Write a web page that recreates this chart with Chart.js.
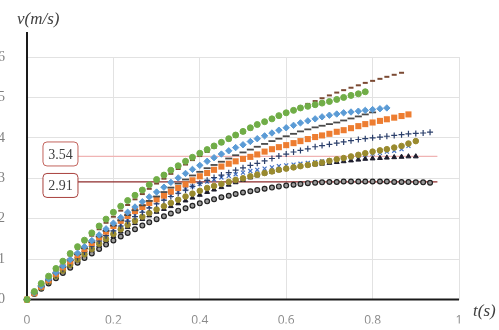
<!DOCTYPE html>
<html>
<head>
<meta charset="utf-8">
<script src="https://cdn.jsdelivr.net/npm/chart.js@4.4.0/dist/chart.umd.min.js"></script>
<style>
  html, body { margin: 0; padding: 0; background: #fff; overflow: hidden; }
  #wrap { position: relative; width: 499px; height: 330px; }
</style>
</head>
<body>
<div id="wrap"><canvas id="chart" width="499" height="330"></canvas></div>
<script>
// time samples (s), shared by all series
const times = [0, 0.017, 0.033, 0.05, 0.067, 0.083, 0.1, 0.117, 0.133, 0.15, 0.167, 0.183, 0.2, 0.217, 0.233, 0.25, 0.267, 0.283, 0.3, 0.317, 0.333, 0.35, 0.367, 0.383, 0.4, 0.417, 0.433, 0.45, 0.467, 0.483, 0.5, 0.517, 0.533, 0.55, 0.567, 0.583, 0.6, 0.617, 0.633, 0.65, 0.667, 0.683, 0.7, 0.717, 0.733, 0.75, 0.767, 0.783, 0.8, 0.817, 0.833, 0.85, 0.867, 0.883, 0.9, 0.917, 0.933];

// velocities (m/s)
const vGreen = [0, 0.2, 0.4, 0.58, 0.77, 0.95, 1.14, 1.31, 1.47, 1.65, 1.82, 1.99, 2.16, 2.31, 2.45, 2.58, 2.71, 2.84, 2.97, 3.08, 3.2, 3.31, 3.42, 3.52, 3.62, 3.71, 3.8, 3.89, 3.98, 4.07, 4.16, 4.25, 4.33, 4.4, 4.47, 4.55, 4.62, 4.68, 4.74, 4.78, 4.82, 4.86, 4.9, 4.95, 5.0, 5.05, 5.09, 5.14];
const vTopDash = [0, 0.19, 0.38, 0.56, 0.74, 0.92, 1.09, 1.26, 1.42, 1.58, 1.74, 1.9, 2.05, 2.2, 2.34, 2.48, 2.61, 2.74, 2.87, 2.99, 3.11, 3.23, 3.34, 3.45, 3.55, 3.65, 3.75, 3.85, 3.94, 4.03, 4.12, 4.21, 4.3, 4.39, 4.47, 4.55, 4.63, 4.7, 4.77, 4.84, 4.91, 4.98, 5.05, 5.12, 5.18, 5.24, 5.3, 5.36, 5.41, 5.46, 5.51, 5.56, 5.61];
const vDiamond = [0, 0.17, 0.34, 0.51, 0.67, 0.83, 0.99, 1.15, 1.31, 1.46, 1.6, 1.75, 1.89, 2.03, 2.16, 2.29, 2.42, 2.54, 2.66, 2.78, 2.9, 3.01, 3.12, 3.22, 3.32, 3.42, 3.51, 3.6, 3.68, 3.76, 3.83, 3.91, 3.98, 4.05, 4.12, 4.19, 4.25, 4.31, 4.37, 4.42, 4.47, 4.52, 4.56, 4.59, 4.62, 4.64, 4.66, 4.68, 4.7, 4.72, 4.74];
const vDarkDash = [0, 0.17, 0.33, 0.49, 0.65, 0.81, 0.97, 1.12, 1.27, 1.42, 1.56, 1.7, 1.83, 1.96, 2.09, 2.21, 2.33, 2.44, 2.55, 2.66, 2.77, 2.87, 2.97, 3.07, 3.16, 3.25, 3.33, 3.41, 3.49, 3.57, 3.64, 3.71, 3.78, 3.85, 3.92, 3.98, 4.04, 4.1, 4.16, 4.21, 4.26, 4.3, 4.34, 4.38, 4.43, 4.48, 4.53, 4.58, 4.63];
const vSquare = [0, 0.16, 0.32, 0.48, 0.64, 0.8, 0.95, 1.1, 1.25, 1.4, 1.54, 1.68, 1.82, 1.95, 2.07, 2.19, 2.29, 2.39, 2.48, 2.57, 2.67, 2.76, 2.85, 2.95, 3.05, 3.13, 3.21, 3.29, 3.36, 3.42, 3.48, 3.53, 3.59, 3.66, 3.72, 3.77, 3.82, 3.87, 3.92, 3.97, 4.02, 4.06, 4.1, 4.15, 4.19, 4.24, 4.29, 4.34, 4.38, 4.42, 4.46, 4.5, 4.54, 4.58];
const vPlus = [0, 0.15, 0.3, 0.45, 0.6, 0.75, 0.9, 1.04, 1.18, 1.32, 1.45, 1.58, 1.7, 1.82, 1.94, 2.05, 2.16, 2.27, 2.37, 2.46, 2.55, 2.63, 2.71, 2.8, 2.88, 2.95, 3.02, 3.08, 3.14, 3.2, 3.26, 3.32, 3.37, 3.43, 3.49, 3.55, 3.6, 3.65, 3.69, 3.73, 3.78, 3.81, 3.84, 3.87, 3.9, 3.93, 3.96, 3.98, 4.0, 4.02, 4.04, 4.06, 4.08, 4.1, 4.11, 4.12, 4.14];
const vOlive = [0, 0.15, 0.3, 0.44, 0.58, 0.72, 0.86, 0.99, 1.12, 1.25, 1.38, 1.5, 1.62, 1.74, 1.85, 1.95, 2.05, 2.14, 2.23, 2.31, 2.39, 2.47, 2.55, 2.62, 2.69, 2.76, 2.81, 2.86, 2.91, 2.96, 3.0, 3.05, 3.09, 3.13, 3.17, 3.21, 3.24, 3.27, 3.3, 3.33, 3.36, 3.39, 3.43, 3.47, 3.5, 3.54, 3.58, 3.62, 3.66, 3.69, 3.72, 3.76, 3.8, 3.86, 3.92];
const vCrossX = [0, 0.16, 0.32, 0.47, 0.62, 0.77, 0.92, 1.06, 1.2, 1.34, 1.47, 1.6, 1.73, 1.85, 1.97, 2.09, 2.2, 2.3, 2.4, 2.49, 2.58, 2.66, 2.73, 2.8, 2.86, 2.92, 2.97, 3.02, 3.06, 3.1, 3.14, 3.18, 3.21, 3.24, 3.27, 3.3, 3.32, 3.34, 3.36, 3.38, 3.4, 3.42, 3.44, 3.46, 3.49, 3.52, 3.55, 3.58, 3.61, 3.63, 3.66, 3.68, 3.72, 3.8];
const vTriangle = [0, 0.15, 0.3, 0.44, 0.58, 0.71, 0.84, 0.97, 1.1, 1.22, 1.34, 1.46, 1.57, 1.68, 1.79, 1.89, 1.99, 2.08, 2.17, 2.24, 2.31, 2.38, 2.45, 2.52, 2.59, 2.66, 2.72, 2.78, 2.84, 2.9, 2.96, 3.02, 3.07, 3.12, 3.16, 3.2, 3.24, 3.27, 3.3, 3.32, 3.34, 3.36, 3.38, 3.4, 3.42, 3.44, 3.46, 3.48, 3.49, 3.5, 3.51, 3.52, 3.53, 3.54, 3.54];
const vOpen = [0, 0.14, 0.27, 0.4, 0.53, 0.66, 0.79, 0.91, 1.03, 1.14, 1.25, 1.36, 1.46, 1.56, 1.65, 1.74, 1.83, 1.91, 1.99, 2.06, 2.13, 2.2, 2.26, 2.32, 2.38, 2.43, 2.48, 2.53, 2.57, 2.61, 2.65, 2.68, 2.71, 2.74, 2.77, 2.8, 2.82, 2.84, 2.86, 2.88, 2.89, 2.9, 2.91, 2.91, 2.92, 2.92, 2.92, 2.92, 2.92, 2.92, 2.92, 2.91, 2.91, 2.91, 2.9, 2.9, 2.89];

// marked terminal velocities
const refValues = [3.54, 2.91];
const refLabels = ['3.54', '2.91'];
const refEnd = 0.95;

const xTicks = [0, 0.2, 0.4, 0.6, 0.8, 1];

function pts(vals) {
    return vals.map((v, i) => ({ x: times[i], y: v }));
}

function markers(vals, style, color, radius, extra) {
    return Object.assign({
        data: pts(vals),
        pointStyle: style,
        pointRadius: radius,
        pointBackgroundColor: color,
        pointBorderColor: color,
        pointBorderWidth: 1,
        showLine: false,
        clip: false
    }, extra || {});
}

// first in list is drawn on top
const datasets = [
    markers(vGreen, 'circle', '#70AD47', 3),
    markers(vTopDash, 'line', '#7B4A33', 2.5, { pointBorderWidth: 2 }),
    markers(vDiamond, 'rectRot', '#5B9BD5', 3.2),
    markers(vDarkDash, 'line', '#4a4a4a', 3.5, { pointBorderWidth: 1.8 }),
    markers(vSquare, 'rect', '#ED7D31', 4.3, { pointBorderWidth: 0 }),
    markers(vPlus, 'cross', '#2B3F6B', 3, { pointBorderWidth: 1.2 }),
    markers(vOlive, 'circle', '#998A2E', 2.8),
    markers(vCrossX, 'crossRot', '#4472C4', 2.8, { pointBorderWidth: 1.2 }),
    markers(vTriangle, 'triangle', '#1c1c2c', 2.8),
    markers(vOpen, 'circle', '#9a9a9a', 2.4, { pointBorderColor: '#222', pointBorderWidth: 1.2 }),
    {
        data: [{ x: 0.1, y: refValues[0] }, { x: refEnd, y: refValues[0] }],
        showLine: true, pointRadius: 0, borderColor: '#F0B4B4', borderWidth: 1.2
    },
    {
        data: [{ x: 0.1, y: refValues[1] }, { x: refEnd, y: refValues[1] }],
        showLine: true, pointRadius: 0, borderColor: '#8E2B2B', borderWidth: 1.3
    }
];

const decor = {
    id: 'decor',
    beforeDatasetsDraw(chart) {
        const { ctx, chartArea: a } = chart;
        ctx.save();
        ctx.strokeStyle = '#1a1a1a';
        ctx.lineWidth = 2;
        ctx.beginPath();
        ctx.moveTo(a.left, 32);
        ctx.lineTo(a.left, a.bottom + 1);
        ctx.moveTo(a.left - 2, a.bottom);
        ctx.lineTo(a.right, a.bottom);
        ctx.stroke();
        ctx.restore();
    },
    afterDatasetsDraw(chart) {
        const { ctx, scales } = chart;
        const x0 = scales.x.getPixelForValue(0.037);
        const x1 = scales.x.getPixelForValue(0.118);
        const offsets = [-2.5, 3.5];
        const borders = ['#C2635C', '#A8403C'];
        ctx.save();
        refValues.forEach((v, i) => {
            const cy = scales.y.getPixelForValue(v) + offsets[i];
            const h = 24;
            ctx.beginPath();
            ctx.roundRect(x0, cy - h / 2, x1 - x0, h, 4);
            ctx.fillStyle = '#fff';
            ctx.fill();
            ctx.strokeStyle = borders[i];
            ctx.lineWidth = 1;
            ctx.stroke();
            ctx.fillStyle = '#404040';
            ctx.font = '14px "Liberation Serif"';
            ctx.textAlign = 'center';
            ctx.textBaseline = 'middle';
            ctx.fillText(refLabels[i], (x0 + x1) / 2, cy + 1);
        });
        // axis titles
        ctx.fillStyle = '#404040';
        ctx.font = 'italic 17px "Liberation Serif"';
        ctx.textAlign = 'left';
        ctx.textBaseline = 'alphabetic';
        ctx.fillText('v(m/s)', 17, 24);
        ctx.fillText('t(s)', 473, 316);
        ctx.restore();
    }
};

new Chart(document.getElementById('chart').getContext('2d'), {
    type: 'scatter',
    data: { datasets: datasets },
    options: {
        responsive: false,
        animation: false,
        layout: { padding: { left: 0, right: 40, top: 57, bottom: 0 } },
        plugins: { legend: { display: false }, tooltip: { enabled: false } },
        scales: {
            x: {
                type: 'linear', min: 0, max: 1,
                afterFit: s => { s.height = 24; },
                afterBuildTicks: s => { s.ticks = xTicks.map(v => ({ value: v })); },
                border: { display: false },
                grid: { color: '#e2e2e2', drawTicks: false },
                ticks: {
                    padding: 14, color: '#8a8a8a',
                    font: { family: '"Open Sans"', size: 12 },
                    callback: v => String(+v.toFixed(1))
                }
            },
            y: {
                type: 'linear', min: 0, max: 6,
                afterFit: s => { s.width = 27; },
                border: { display: false },
                grid: { color: '#e2e2e2', drawTicks: false },
                ticks: {
                    stepSize: 1, padding: 22, color: '#808080',
                    font: { family: '"Liberation Serif"', size: 14 }
                }
            }
        }
    },
    plugins: [decor]
});
</script>
</body>
</html>
